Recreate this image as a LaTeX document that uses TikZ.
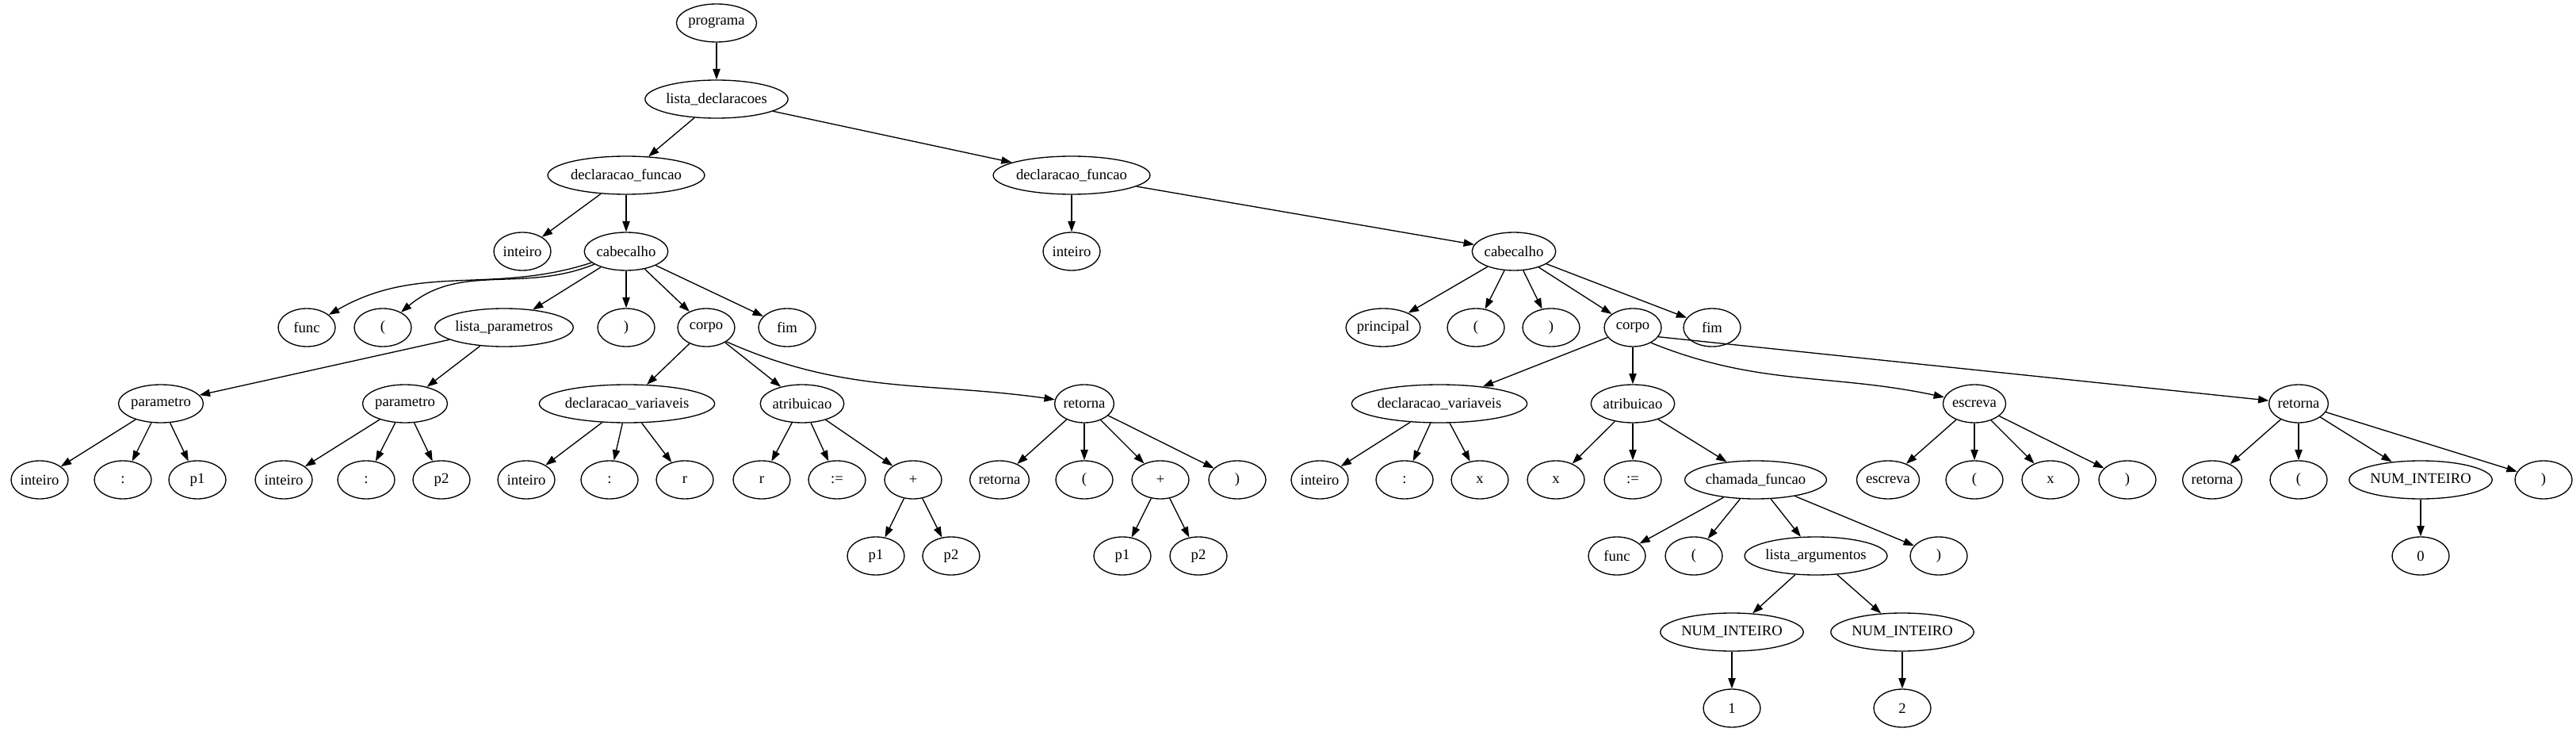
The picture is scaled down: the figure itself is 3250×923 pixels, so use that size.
\documentclass[tikz,border=0pt]{standalone}
\usepackage{fontspec}
\setmainfont{Liberation Serif}
\usepackage{tikz}
\usetikzlibrary{arrows.meta,shapes.geometric}
\newcommand\tnfont{\fontsize{14pt}{16pt}\selectfont}
\newlength\tnw
% ellipse as wide as graphviz draws it around the label
\newcommand\tn[4]{%
  \settowidth\tnw{\tnfont #4}%
  \pgfmathsetlengthmacro\tnmw{max(54pt,1.2626*(\tnw+16pt))}%
  \node[tnode,minimum width=\tnmw] (#1) at (#2,#3) {#4};}
\tikzset{
  tnode/.style={draw,ellipse,inner sep=0pt,minimum height=36pt,line width=1pt,font=\tnfont},
  edge/.style={-{Triangle[length=10pt,width=7pt]},line width=1pt}
}

\begin{document}
\begin{tikzpicture}[x=0.75pt,y=-0.75pt]
  \useasboundingbox (0,0) rectangle (3250,923);
  % upper levels
  \tn{prog}{904}{29}{programa}
  \tn{ld}{904}{125}{lista\_declaracoes}
  \tn{dfa}{790}{221}{declaracao\_funcao}
  \tn{dfb}{1352}{221}{declaracao\_funcao}
  \tn{inta}{659}{317}{inteiro}
  \tn{caba}{790}{317}{cabecalho}
  \tn{intb}{1352}{317}{inteiro}
  \tn{cabb}{1910}{317}{cabecalho}
  % level 4
  \tn{funca}{387}{413}{func}
  \tn{lpa}{483}{413}{(}
  \tn{lpar}{636}{413}{lista\_parametros}
  \tn{rpa}{790}{413}{)}
  \tn{corpoa}{891}{413}{corpo}
  \tn{fima}{993}{413}{fim}
  \tn{princ}{1745}{413}{principal}
  \tn{lpb}{1862}{413}{(}
  \tn{rpb}{1957}{413}{)}
  \tn{corpob}{2060}{413}{corpo}
  \tn{fimb}{2160}{413}{fim}
  % level 5
  \tn{para}{203}{509}{parametro}
  \tn{parb}{511}{509}{parametro}
  \tn{dva}{791}{509}{declaracao\_variaveis}
  \tn{atra}{1012}{509}{atribuicao}
  \tn{reta}{1368}{509}{retorna}
  \tn{dvb}{1816}{509}{declaracao\_variaveis}
  \tn{atrb}{2060}{509}{atribuicao}
  \tn{escb}{2491}{509}{escreva}
  \tn{retb}{2900}{509}{retorna}
  % level 6
  \tn{i1}{50}{605}{inteiro}
  \tn{c1}{155}{605}{:}
  \tn{p1a}{249}{605}{p1}
  \tn{i2}{358}{605}{inteiro}
  \tn{c2}{462}{605}{:}
  \tn{p2a}{557}{605}{p2}
  \tn{i3}{664}{605}{inteiro}
  \tn{c3}{769}{605}{:}
  \tn{r1}{864}{605}{r}
  \tn{r2}{961}{605}{r}
  \tn{as1}{1056}{605}{:=}
  \tn{plusa}{1152}{605}{+}
  \tn{rk1}{1261}{605}{retorna}
  \tn{lp1}{1368}{605}{(}
  \tn{plusb}{1464}{605}{+}
  \tn{rp1}{1561}{605}{)}
  \tn{i4}{1665}{605}{inteiro}
  \tn{c4}{1772}{605}{:}
  \tn{x1}{1867}{605}{x}
  \tn{x2}{1963}{605}{x}
  \tn{as2}{2060}{605}{:=}
  \tn{chf}{2215}{605}{chamada\_funcao}
  \tn{ek}{2382}{605}{escreva}
  \tn{lp2}{2491}{605}{(}
  \tn{x3}{2587}{605}{x}
  \tn{rp2}{2684}{605}{)}
  \tn{rk2}{2791}{605}{retorna}
  \tn{lp3}{2900}{605}{(}
  \tn{nia}{3054}{605}{NUM\_INTEIRO}
  \tn{rp3}{3209}{605}{)}
  % level 7 and below
  \tn{p1b}{1105}{701}{p1}
  \tn{p2b}{1200}{701}{p2}
  \tn{p1c}{1416}{701}{p1}
  \tn{p2c}{1512}{701}{p2}
  \tn{fn2}{2040}{701}{func}
  \tn{lp4}{2137}{701}{(}
  \tn{la}{2291}{701}{lista\_argumentos}
  \tn{rp4}{2446}{701}{)}
  \tn{zero}{3054}{701}{0}
  \tn{nib}{2185}{797}{NUM\_INTEIRO}
  \tn{nic}{2400}{797}{NUM\_INTEIRO}
  \tn{one}{2185}{893}{1}
  \tn{two}{2400}{893}{2}
  % edges
  \foreach \a/\b in {prog/ld,ld/dfa,ld/dfb,dfa/inta,dfa/caba,caba/lpar,caba/rpa,caba/corpoa,caba/fima,
      lpar/para,lpar/parb,para/i1,para/c1,para/p1a,parb/i2,parb/c2,parb/p2a,
      corpoa/dva,corpoa/atra,dva/i3,dva/c3,dva/r1,atra/r2,atra/as1,atra/plusa,plusa/p1b,plusa/p2b,
      reta/rk1,reta/lp1,reta/plusb,reta/rp1,plusb/p1c,plusb/p2c,
      dfb/intb,dfb/cabb,cabb/princ,cabb/lpb,cabb/rpb,cabb/corpob,cabb/fimb,
      corpob/dvb,corpob/atrb,dvb/i4,dvb/c4,dvb/x1,atrb/x2,atrb/as2,atrb/chf,
      chf/fn2,chf/lp4,chf/la,chf/rp4,la/nib,la/nic,nib/one,nic/two,
      escb/ek,escb/lp2,escb/x3,escb/rp2,retb/rk2,retb/lp3,retb/nia,retb/rp3,nia/zero}
    \draw[edge] (\a) -- (\b);
  % the few that graphviz bends
  \draw[edge] (caba) to[out=-162,in=30] (funca);
  \draw[edge] (caba) to[out=-158,in=40] (lpa);
  \draw[edge] (corpoa.-35) to[out=-24,in=172] (reta);
  \draw[edge] (corpob.-40) to[out=-22,in=168] (escb);
  \draw[edge] (corpob.-20) -- (retb);
\end{tikzpicture}
\end{document}
